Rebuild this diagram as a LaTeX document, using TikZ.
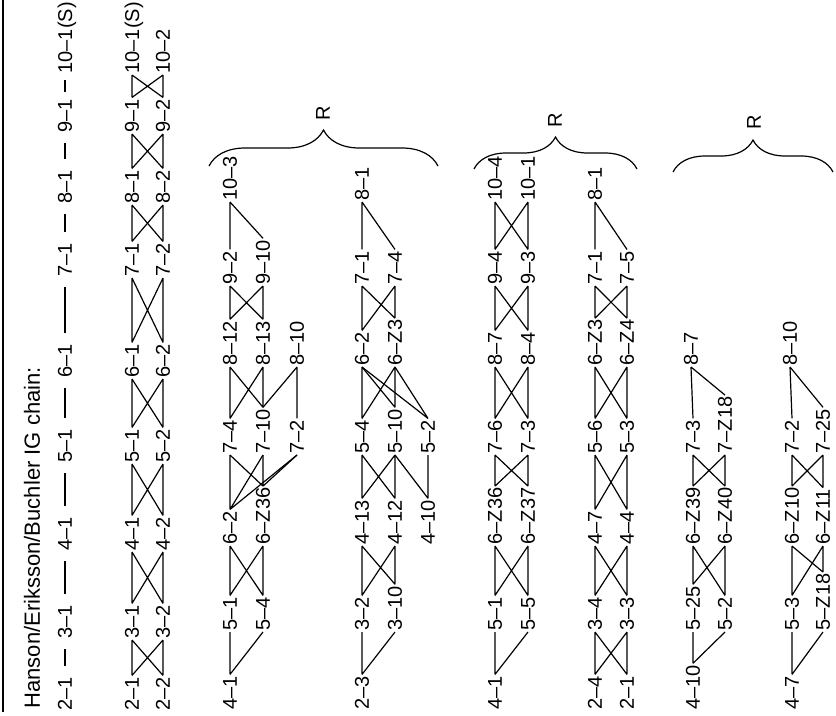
\documentclass[tikz,border=0pt]{standalone}
\usepackage{fontspec}
\setmainfont{Liberation Sans}
\usetikzlibrary{decorations.pathreplacing}

% the four links between two stacked pairs
\newcommand{\crosslink}[4]{%
  \draw (#1.east) -- (#3.west) (#2.east) -- (#4.west)
        (#1.east) -- (#4.west) (#2.east) -- (#3.west);}

\begin{document}
\begin{tikzpicture}[x=0.75pt,y=0.75pt,yscale=-1,xscale=1,line width=0.9pt,
  lbl/.style={rotate=90,anchor=west,inner sep=0.75pt,text depth=0pt,
    font=\fontsize{15}{18}\selectfont},
  dashlink/.style={shorten <=#1,shorten >=#1},
  dashlink/.default=7pt,
  rbrace/.style={decorate,decoration={brace,amplitude=#1}}]
\useasboundingbox (0,0) rectangle (836,715);

%left rule
\draw (3,0) -- (3,712);
\node[lbl,font=\fontsize{16.5}{19}\selectfont] (title) at (32,710) {Hanson/Eriksson/Buchler IG chain:};

% chain and first pair of rows
\foreach \i/\y in {2/712,3/640,4/552,5/464,6/379,7/278,8/205,9/134}{
  \node[lbl] (ch\i) at (65,\y) {\i--1};
  \node[lbl] (u\i) at (132,\y) {\i--1};
  \node[lbl] (l\i) at (163,\y) {\i--2};
}
\node[lbl] (ch10) at (65,75) {10--1(S)};
\node[lbl] (u10) at (132,75) {10--1(S)};
\node[lbl] (l10) at (163,75) {10--2};

\foreach \i [count=\j from 3] in {2,...,8}{
  \draw[dashlink] (ch\i.east) -- (ch\j.west);
}
\draw[dashlink=4pt] (ch9.east) -- (ch10.west);
\foreach \i [count=\j from 3] in {2,...,9}{
  \crosslink{u\i}{l\i}{u\j}{l\j}
}

% first R group, upper chain
\node[lbl] (a41) at (230,711) {4--1};
\node[lbl] (a51) at (230,632) {5--1};
\node[lbl] (a54) at (263,632) {5--4};
\node[lbl] (a62) at (230,546) {6--2};
\node[lbl] (a6z36) at (263,546) {6--Z36};
\node[lbl] (a74) at (230,455) {7--4};
\node[lbl] (a710) at (263,455) {7--10};
\node[lbl] (a72) at (297,455) {7--2};
\node[lbl] (a812) at (230,367) {8--12};
\node[lbl] (a813) at (263,367) {8--13};
\node[lbl] (a810) at (297,367) {8--10};
\node[lbl] (a92) at (230,286) {9--2};
\node[lbl] (a910) at (263,286) {9--10};
\node[lbl] (a103) at (230,202) {10--3};

\draw (a41.east) -- (a51.west) (a41.east) -- (a54.west);
\crosslink{a51}{a54}{a62}{a6z36}
\draw (a62.east) -- (a74.west) (a62.east) -- (a710.west) (a62.east) -- (a72.west);
\draw (a6z36.east) -- (a74.west) (a6z36.east) -- (a710.west) (a6z36.east) -- (a72.west);
\crosslink{a74}{a710}{a812}{a813}
\draw (a710.east) -- (a810.west) (a72.east) -- (a810.west);
\crosslink{a812}{a813}{a92}{a910}
\draw (a92.east) -- (a103.west) (a910.east) -- (a103.west);

% first R group, lower chain
\node[lbl] (b23) at (362,711) {2--3};
\node[lbl] (b32) at (362,632) {3--2};
\node[lbl] (b310) at (395,632) {3--10};
\node[lbl] (b413) at (362,546) {4--13};
\node[lbl] (b412) at (395,546) {4--12};
\node[lbl] (b410) at (428,546) {4--10};
\node[lbl] (b54) at (362,455) {5--4};
\node[lbl] (b510) at (395,455) {5--10};
\node[lbl] (b52) at (428,455) {5--2};
\node[lbl] (b62) at (362,367) {6--2};
\node[lbl] (b6z3) at (395,367) {6--Z3};
\node[lbl] (b71) at (362,286) {7--1};
\node[lbl] (b74) at (395,286) {7--4};
\node[lbl] (b81) at (362,202) {8--1};

\draw (b23.east) -- (b32.west) (b23.east) -- (b310.west);
\crosslink{b32}{b310}{b413}{b412}
\crosslink{b413}{b412}{b54}{b510}
\draw (b410.east) -- (b510.west) (b410.east) -- (b52.west);
\crosslink{b54}{b510}{b62}{b6z3}
\draw (b52.east) -- (b62.west) (b52.east) -- (b6z3.west);
\crosslink{b62}{b6z3}{b71}{b74}
\draw (b71.east) -- (b81.west) (b74.east) -- (b81.west);

\draw[rbrace=27pt] (209,166) -- (438,166);
\node[lbl,anchor=center] (r1) at (323,113) {R};

% second R group, upper chain
\node[lbl] (c41) at (495,711) {4--1};
\node[lbl] (c51) at (495,632) {5--1};
\node[lbl] (c55) at (528,632) {5--5};
\node[lbl] (c6z36) at (495,546) {6--Z36};
\node[lbl] (c6z37) at (528,546) {6--Z37};
\node[lbl] (c76) at (495,455) {7--6};
\node[lbl] (c73) at (528,455) {7--3};
\node[lbl] (c87) at (495,367) {8--7};
\node[lbl] (c84) at (528,367) {8--4};
\node[lbl] (c94) at (495,286) {9--4};
\node[lbl] (c93) at (528,286) {9--3};
\node[lbl] (c104) at (495,202) {10--4};
\node[lbl] (c101) at (528,202) {10--1};

\draw (c41.east) -- (c51.west) (c41.east) -- (c55.west);
\crosslink{c51}{c55}{c6z36}{c6z37}
\crosslink{c6z36}{c6z37}{c76}{c73}
\crosslink{c76}{c73}{c87}{c84}
\crosslink{c87}{c84}{c94}{c93}
\crosslink{c94}{c93}{c104}{c101}

% second R group, lower chain
\node[lbl] (d24) at (595,711) {2--4};
\node[lbl] (d21) at (627,711) {2--1};
\node[lbl] (d34) at (595,632) {3--4};
\node[lbl] (d33) at (627,632) {3--3};
\node[lbl] (d47) at (595,546) {4--7};
\node[lbl] (d44) at (627,546) {4--4};
\node[lbl] (d56) at (595,455) {5--6};
\node[lbl] (d53) at (627,455) {5--3};
\node[lbl] (d6z3) at (595,367) {6--Z3};
\node[lbl] (d6z4) at (627,367) {6--Z4};
\node[lbl] (d71) at (595,286) {7--1};
\node[lbl] (d75) at (627,286) {7--5};
\node[lbl] (d81) at (595,202) {8--1};

\crosslink{d24}{d21}{d34}{d33}
\crosslink{d34}{d33}{d47}{d44}
\crosslink{d47}{d44}{d56}{d53}
\crosslink{d56}{d53}{d6z3}{d6z4}
\crosslink{d6z3}{d6z4}{d71}{d75}
\draw (d71.east) -- (d81.west) (d75.east) -- (d81.west);

\draw[rbrace=24pt] (474,169) -- (637,169);
\node[lbl,anchor=center] (r2) at (555,120) {R};

% third R group, upper chain
\node[lbl] (e410) at (693,711) {4--10};
\node[lbl] (e525) at (693,632) {5--25};
\node[lbl] (e52) at (725,632) {5--2};
\node[lbl] (e6z39) at (693,546) {6--Z39};
\node[lbl] (e6z40) at (725,546) {6--Z40};
\node[lbl] (e73) at (693,455) {7--3};
\node[lbl] (e7z18) at (725,455) {7--Z18};
\node[lbl] (e87) at (691,367) {8--7};

\draw (e410.east) -- (e525.west) (e410.east) -- (e52.west);
\crosslink{e525}{e52}{e6z39}{e6z40}
\crosslink{e6z39}{e6z40}{e73}{e7z18}
\draw (e73.east) -- (e87.west) (e7z18.east) -- (e87.west);

% third R group, lower chain
\node[lbl] (f47) at (792,711) {4--7};
\node[lbl] (f53) at (792,632) {5--3};
\node[lbl] (f5z18) at (823,632) {5--Z18};
\node[lbl] (f6z10) at (792,546) {6--Z10};
\node[lbl] (f6z11) at (823,546) {6--Z11};
\node[lbl] (f72) at (792,455) {7--2};
\node[lbl] (f725) at (823,455) {7--25};
\node[lbl] (f810) at (790,367) {8--10};

\draw (f47.east) -- (f53.west) (f47.east) -- (f5z18.west);
\crosslink{f53}{f5z18}{f6z10}{f6z11}
\crosslink{f6z10}{f6z11}{f72}{f725}
\draw (f72.east) -- (f810.west) (f725.east) -- (f810.west);

\draw[rbrace=24pt] (673,172) -- (833,172);
\node[lbl,anchor=center] (r3) at (754,122) {R};

\end{tikzpicture}
\end{document}
